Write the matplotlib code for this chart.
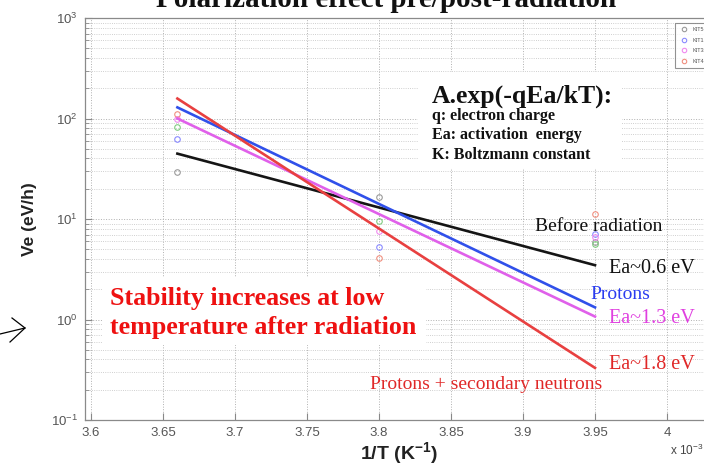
import numpy as np
import matplotlib
matplotlib.use("Agg")
import matplotlib.pyplot as plt
from matplotlib.ticker import FixedLocator, FuncFormatter, LogLocator

plt.rcParams["font.family"] = ["Liberation Sans", "DejaVu Sans"]
plt.rcParams["mathtext.fontset"] = "custom"
plt.rcParams["mathtext.rm"] = "Liberation Sans"
plt.rcParams["mathtext.bf"] = "Liberation Sans:bold"

# 1/T in units of 1e-3 K^-1
meas_x = [3.66, 3.8, 3.95]
kit5 = [29.5, 16.6, 5.9]
kit1 = [63, 5.25, 7.1]
kit3 = [100, 7.6, 6.6]
kit4 = [112, 4.1, 11.2]
extra = [83, 9.5, 5.6]

fit_x = [3.66, 3.95]
fit_before = [44.7, 3.47]
fit_protons = [129, 1.32]
fit_protons13 = [100, 1.07]
fit_neutrons = [158, 0.33]

x_ticks = [3.6, 3.65, 3.7, 3.75, 3.8, 3.85, 3.9, 3.95, 4.0]

W, H = 704, 468
fig = plt.figure(figsize=(7.04, 4.68), dpi=100)
fig.patch.set_facecolor("white")

# axes: left 85 px, top 18 px, bottom 420 px, right runs off the picture
ax = fig.add_axes([85 / W, 48 / H, (712 - 85) / W, 402 / H])
ax.set_yscale("log")
ax.set_xlim(3.6 - 6 / 1440, 3.6 + (712 - 91) / 1440)
ax.set_ylim(0.1, 1000)

ax.grid(True, which="major", linestyle=":", color="#b0b0b0", linewidth=0.7)
ax.grid(True, which="minor", axis="y", linestyle=":", color="#c0c0c0", linewidth=0.6)
ax.set_axisbelow(True)

# measured points
mk = dict(marker="o", linestyle="none", markersize=4, markerfacecolor="none", markeredgewidth=0.8)
ax.plot(meas_x, kit5, markeredgecolor="#9a9a9a", label="KIT5", **mk)
ax.plot(meas_x, kit1, markeredgecolor="#8a8aff", label="KIT1", **mk)
ax.plot(meas_x, kit3, markeredgecolor="#f08af0", label="KIT3", **mk)
ax.plot(meas_x, kit4, markeredgecolor="#f09080", label="KIT4", **mk)
ax.plot(meas_x, extra, markeredgecolor="#80cc80", label="_nolegend_", **mk)

# fits
ax.plot(fit_x, fit_before, color="#151515", linewidth=1.9)
ax.plot(fit_x, fit_protons, color="#3050ea", linewidth=1.9)
ax.plot(fit_x, fit_protons13, color="#e060ea", linewidth=1.9)
ax.plot(fit_x, fit_neutrons, color="#e84040", linewidth=1.9)

leg = ax.legend(loc="upper right", fontsize=4, frameon=True, fancybox=False,
                borderpad=0.8, handletextpad=0.8, labelspacing=1.0, handlelength=1.6,
                markerscale=0.8, bbox_to_anchor=(0.999, 0.995))
leg.get_frame().set_edgecolor("#777777")
leg.get_frame().set_linewidth(0.8)
for t in leg.get_texts():
    t.set_color("#555555")

ax.xaxis.set_major_locator(FixedLocator(x_ticks))
ax.xaxis.set_major_formatter(FuncFormatter(lambda v, p: ("%g" % round(v, 2))))
ax.yaxis.set_major_locator(LogLocator(base=10, numticks=10))
ax.yaxis.set_minor_locator(LogLocator(base=10, subs=np.arange(2, 10), numticks=10))
ax.tick_params(which="both", direction="in", colors="#888888", labelcolor="#555555", labelsize=9.5)
ax.tick_params(which="major", length=5, pad=5)
ax.tick_params(which="minor", length=3)
for s in ax.spines.values():
    s.set_color("#8a8a8a")
    s.set_linewidth(0.9)

ax.set_ylabel("Ve (eV/h)", fontsize=12.5, fontweight="bold", color="#222222", labelpad=10)
ax.set_xlabel("1/T (K$^{\\mathbf{-1}}$)", fontsize=14, fontweight="bold", color="#222222", labelpad=1)
fig.text(670 / W, 1 - 455 / H, "x 10$^{-3}$", fontsize=8.5, color="#444444", va="baseline")

# title (runs off the top, as in the slide)
fig.text(386 / W, 1 - 7 / H, "Polarization effect pre/post-radiation", family="Liberation Serif",
         fontsize=21, fontweight="bold", ha="center", va="baseline", color="#111111")

serif = ["Liberation Serif", "DejaVu Serif"]

def ftext(x, y, s, **kw):
    fig.text(x / W, 1 - y / H, s, family=serif, va="baseline", **kw)

# formula box
fig.patches.append(plt.Rectangle((418 / W, 1 - 168 / H), 204 / W, 96 / H,
                                 transform=fig.transFigure, facecolor="white", edgecolor="none", zorder=1.5))
ftext(432, 103, "A.exp(-qEa/kT):", fontsize=18.5, fontweight="bold", color="#111111", zorder=3)
ftext(432, 120, "q: electron charge", fontsize=11.5, fontweight="bold", color="#111111", zorder=3)
ftext(432, 139, "Ea: activation  energy", fontsize=11.5, fontweight="bold", color="#111111", zorder=3)
ftext(432, 159, "K: Boltzmann constant", fontsize=11.5, fontweight="bold", color="#111111", zorder=3)

ftext(535, 231, "Before radiation", fontsize=14, color="#111111")
ftext(609, 273, "Ea~0.6 eV", fontsize=14.5, color="#111111")
ftext(590, 299, "Protons", fontsize=14, color="#2a3cf0")
ftext(609, 323, "Ea~1.3 eV", fontsize=14.5, color="#e040e0")
ftext(609, 369, "Ea~1.8 eV", fontsize=14.5, color="#e02828")
ftext(370, 389, "Protons + secondary neutrons", fontsize=14, color="#e02828")

fig.patches.append(plt.Rectangle((102 / W, 1 - 345 / H), 324 / W, 68 / H,
                                 transform=fig.transFigure, facecolor="white", edgecolor="none", zorder=1.5))
ftext(110, 305, "Stability increases at low", fontsize=18.7, fontweight="bold", color="#ee1111", zorder=3)
ftext(110, 334, "temperature after radiation", fontsize=18.7, fontweight="bold", color="#ee1111", zorder=3)

# hand drawn arrow at the left edge
fig.add_artist(plt.Line2D([0 / W, 25 / W], [1 - 334 / H, 1 - 328 / H], color="black", linewidth=0.9))
fig.add_artist(plt.Line2D([12 / W, 25 / W, 10 / W], [1 - 318 / H, 1 - 328 / H, 1 - 342 / H],
                          color="black", linewidth=0.9))

fig.savefig("out.png", dpi=100)
